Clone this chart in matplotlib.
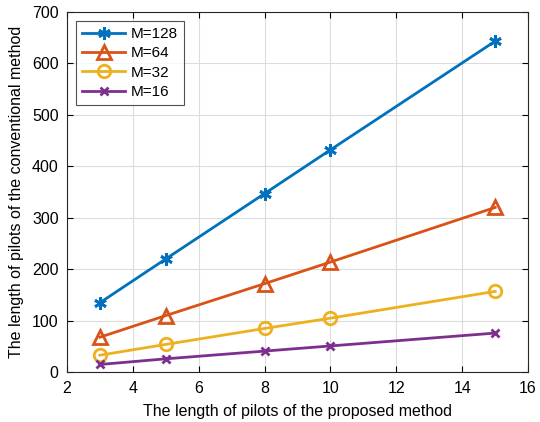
import matplotlib
matplotlib.use("Agg")
import matplotlib.pyplot as plt

plt.rcParams["font.family"] = ["Liberation Sans", "DejaVu Sans"]

x_pilots = [3, 5, 8, 10, 15]
m128 = [135, 220, 347, 432, 643]
m64 = [68, 110, 172, 214, 320]
m32 = [33, 54, 85, 105, 157]
m16 = [15, 26, 41, 51, 76]
labels = ["M=128", "M=64", "M=32", "M=16"]

series = [m128, m64, m32, m16]
colors = ["#0072BD", "#D95319", "#EDB120", "#7E2F8E"]
markers = [(6, 2, 0), "^", "o", "x"]
msizes = [9, 10, 9, 6]

fig = plt.figure(figsize=(5.4, 4.22), dpi=100)
ax = fig.add_axes([0.124, 0.118, 0.854, 0.854])

for vals, lab, c, mk, ms in zip(series, labels, colors, markers, msizes):
    ax.plot(x_pilots, vals, color=c, lw=2, marker=mk, markersize=ms,
            markerfacecolor="none" if mk in ("^", "o") else c,
            markeredgewidth=2, label=lab)

ax.set_xlim(2, 16)
ax.set_ylim(0, 700)
ax.set_xticks(range(2, 17, 2))
ax.set_yticks(range(0, 701, 100))
ax.grid(True, color="#dcdcdc", lw=0.8)
ax.set_axisbelow(True)
ax.tick_params(direction="in", labelsize=11.5, top=True, right=True, length=4, pad=6)
for s in ax.spines.values():
    s.set_linewidth(0.8)
    s.set_color("#262626")
ax.set_xlabel("The length of pilots of the proposed method", fontsize=11.5, labelpad=6)
ax.set_ylabel("The length of pilots of the conventional method", fontsize=11.5, labelpad=6)

leg = ax.legend(loc="upper left", fontsize=11, fancybox=False, edgecolor="#262626",
                handlelength=2.8, handletextpad=0.4, borderaxespad=0.6, labelspacing=0.35)
leg.get_frame().set_linewidth(0.8)

fig.savefig("out.png", dpi=100)
